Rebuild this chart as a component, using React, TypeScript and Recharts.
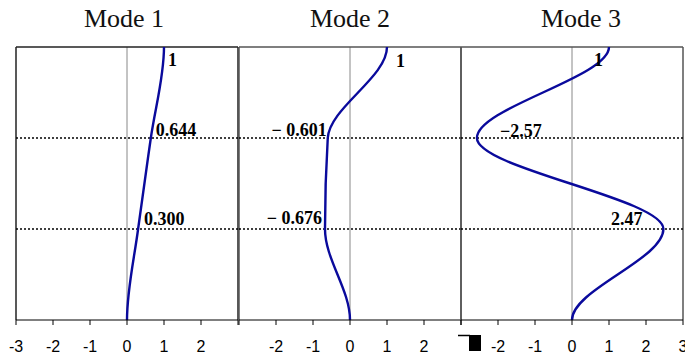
import { LabelList, Line, LineChart, ReferenceLine, XAxis, YAxis } from "recharts";

// storey heights (0 = base, 3 = roof) and modal displacements at each level
const heights = [0, 1, 2, 3];
const mode1 = [0, 0.3, 0.644, 1];
const mode2 = [0, -0.676, -0.601, 1];
const mode3 = [0, 2.47, -2.57, 1];

const titles = ["Mode 1", "Mode 2", "Mode 3"];
const xTicks = [-3, -2, -1, 0, 1, 2, 3];
const tickLabels1 = ["-3", "-2", "-1", "0", "1", "2"];
const tickLabels2 = ["-2", "-1", "0", "1", "2"];
const tickLabels3 = ["-2", "-1", "0", "1", "2", "3"];

const PLOT_W = 222;
const SIDE = 14;
const BLUE = "#0a0a9c";

type Place = { dx: number; dy: number; anchor: "start" | "end" };

// Smooth x(y) curve: monotone tangents inside, vertical tangents at both ends
// (fixed base and free top), so peaks sit exactly on the storey levels.
const shapeCurve = (ctx: any) => {
  let pts: [number, number][] = [];
  return {
    areaStart() {},
    areaEnd() {},
    lineStart() {
      pts = [];
    },
    point(x: number, y: number) {
      pts.push([+x, +y]);
    },
    lineEnd() {
      const n = pts.length;
      if (!n) return;
      const s: number[] = [];
      for (let i = 0; i < n - 1; i++) {
        s.push((pts[i + 1][0] - pts[i][0]) / (pts[i + 1][1] - pts[i][1]));
      }
      const m = pts.map((_, i) => {
        if (i === 0 || i === n - 1) return 0;
        const s0 = s[i - 1];
        const s1 = s[i];
        if (s0 * s1 <= 0) return 0;
        const h0 = pts[i][1] - pts[i - 1][1];
        const h1 = pts[i + 1][1] - pts[i][1];
        const p = (s0 * h1 + s1 * h0) / (h0 + h1);
        return (Math.sign(s0) + Math.sign(s1)) * Math.min(Math.abs(s0), Math.abs(s1), 0.5 * Math.abs(p));
      });
      ctx.moveTo(pts[0][0], pts[0][1]);
      for (let i = 0; i < n - 1; i++) {
        const h = pts[i + 1][1] - pts[i][1];
        ctx.bezierCurveTo(
          pts[i][0] + (m[i] * h) / 3,
          pts[i][1] + h / 3,
          pts[i + 1][0] - (m[i + 1] * h) / 3,
          pts[i + 1][1] - h / 3,
          pts[i + 1][0],
          pts[i + 1][1]
        );
      }
    },
  };
};

const fmt = (digits: number, spaced: boolean) => (v: number) => {
  if (v === 1) return "1";
  const sign = v < 0 ? (spaced ? "\u2212 " : "\u2212") : "";
  return sign + Math.abs(v).toFixed(digits);
};

// label offsets per point index (index 0, the base, is unlabelled)
const place1: Place[] = [
  { dx: 0, dy: 0, anchor: "start" },
  { dx: 6, dy: -4, anchor: "start" },
  { dx: 5, dy: -2, anchor: "start" },
  { dx: 4, dy: 19, anchor: "start" },
];
const place2: Place[] = [
  { dx: 0, dy: 0, anchor: "start" },
  { dx: -3, dy: -5, anchor: "end" },
  { dx: -1, dy: -2, anchor: "end" },
  { dx: 9, dy: 20, anchor: "start" },
];
const place3: Place[] = [
  { dx: 0, dy: 0, anchor: "start" },
  { dx: -21, dy: -4, anchor: "end" },
  { dx: 23, dy: -1, anchor: "start" },
  { dx: -6, dy: 19, anchor: "end" },
];

function ModePanel({
  values,
  left,
  labels,
  place,
  format,
  frame,
}: {
  values: number[];
  left: number;
  labels: string[];
  place: Place[];
  format: (v: number) => string;
  frame: string;
}) {
  const data = heights.map((h, i) => ({ h, x: values[i] }));
  return (
    <div style={{ position: "absolute", left: left - SIDE, top: 0 }}>
      <LineChart
        width={PLOT_W + 2 * SIDE}
        height={357}
        data={data}
        layout="vertical"
        margin={{ top: 47, right: SIDE, bottom: 7, left: SIDE }}
      >
        <XAxis
          type="number"
          domain={[-3, 3]}
          ticks={xTicks}
          allowDataOverflow
          height={30}
          tickSize={5}
          tickMargin={16}
          axisLine={{ stroke: "#000", strokeWidth: 1 }}
          tickLine={{ stroke: "#000" }}
          tick={{ fill: "#000", fontSize: 16, fontFamily: "Liberation Sans, Arial, sans-serif" }}
          tickFormatter={(v) => (labels.includes(String(v)) ? String(v) : "")}
        />
        <YAxis type="number" dataKey="h" domain={[0, 3]} reversed hide />
        <ReferenceLine x={0} stroke="#888" strokeWidth={1} />
        <ReferenceLine x={-3} stroke={frame} strokeWidth={1.5} />
        <ReferenceLine x={3} stroke={frame} strokeWidth={1.5} />
        <ReferenceLine y={3} stroke={frame} strokeWidth={1.5} />
        <ReferenceLine y={1} stroke="#000" strokeWidth={1.6} strokeDasharray="2 2" />
        <ReferenceLine y={2} stroke="#000" strokeWidth={1.6} strokeDasharray="2 2" />
        <Line
          dataKey="x"
          type={shapeCurve as any}
          stroke={BLUE}
          strokeWidth={2.4}
          dot={false}
          isAnimationActive={false}
        >
          <LabelList
            dataKey="x"
            content={(p: any) => {
              if (!p.index) return null;
              const pl = place[p.index];
              return (
                <text
                  x={Number(p.x) + pl.dx}
                  y={Number(p.y) + pl.dy}
                  textAnchor={pl.anchor}
                  fontFamily="Liberation Serif, Times New Roman, serif"
                  fontWeight="bold"
                  fontSize={18}
                  fill="#000"
                >
                  {format(Number(p.value))}
                </text>
              );
            }}
          />
        </Line>
      </LineChart>
    </div>
  );
}

export default function App() {
  return (
    <div style={{ position: "absolute", left: 0, top: 0, width: 685, height: 357, background: "#fff" }}>
      <ModePanel values={mode1} left={16} labels={tickLabels1} place={place1} format={fmt(3, false)} frame="#222" />
      <ModePanel values={mode2} left={239} labels={tickLabels2} place={place2} format={fmt(3, true)} frame="#555" />
      <ModePanel values={mode3} left={460.5} labels={tickLabels3} place={place3} format={fmt(2, false)} frame="#555" />
      <svg width={685} height={357} style={{ position: "absolute", left: 0, top: 0, pointerEvents: "none" }}>
        {titles.map((t, i) => (
          <text
            key={t}
            x={[124, 350, 581][i]}
            y={27}
            textAnchor="middle"
            fontFamily="Liberation Serif, Times New Roman, serif"
            fontSize={26}
            fill="#111"
          >
            {t}
          </text>
        ))}
        {/* stray block over the third axis */}
        <line x1={458} y1={335.5} x2={470} y2={335.5} stroke="#000" strokeWidth={1.5} />
        <rect x={469} y={335} width={12} height={16} fill="#000" />
      </svg>
    </div>
  );
}
